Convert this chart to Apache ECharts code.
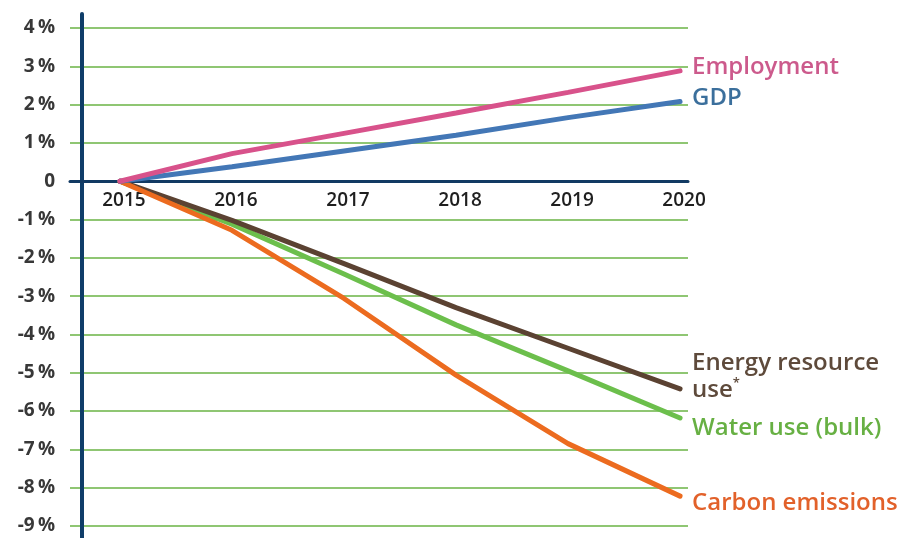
<!DOCTYPE html>
<html><head><meta charset="utf-8">
<script src="https://cdn.jsdelivr.net/npm/echarts@6/dist/echarts.min.js"></script>
<style>html,body{margin:0;padding:0;background:#fff}#c{width:909px;height:538px}</style>
</head><body><div id="c"></div>
<script>
const years = [2015, 2016, 2017, 2018, 2019, 2020];
const employment = [0, 0.72, 1.25, 1.78, 2.32, 2.88];
const gdp = [0, 0.38, 0.79, 1.2, 1.66, 2.08];
const energy = [0, -1.02, -2.15, -3.3, -4.36, -5.42];
const water = [0, -1.12, -2.42, -3.75, -4.95, -6.18];
const carbon = [0, -1.28, -3.06, -5.06, -6.85, -8.22];
const yTicks = [4, 3, 2, 1, 0, -1, -2, -3, -4, -5, -6, -7, -8, -9];
const names = ['Employment', 'GDP', 'Energy resource\nuse{s|*}', 'Water use (bulk)', 'Carbon emissions'];

const FONT = '"Open Sans", "Noto Sans", sans-serif';
const pair = arr => years.map((y, i) => [y, arr[i]]);

const GRID_TOP = 28, GRID_BOTTOM = 12, H = 538;
const plotH = H - GRID_TOP - GRID_BOTTOM;
const zeroFromBottom = plotH * (0 - yTicks[yTicks.length - 1]) / (yTicks[0] - yTicks[yTicks.length - 1]);

function mk(name, arr, color, textColor, dy, z) {
  return {
    type: 'line', name: name, data: pair(arr), showSymbol: false, symbol: 'none', z: z,
    lineStyle: { color: color, width: 5, cap: 'round' },
    endLabel: {
      show: true, formatter: name, color: textColor, fontFamily: FONT, fontWeight: 600,
      fontSize: 24, lineHeight: 27, distance: 12, offset: [0, dy], align: 'left',
      rich: { s: { fontSize: 13, verticalAlign: 'top', color: textColor, fontFamily: FONT, fontWeight: 600, padding: [0, 0, 10, 0] } }
    },
    animation: false
  };
}

const chart = echarts.init(document.getElementById('c'));
chart.setOption({
  animation: false,
  backgroundColor: '#fff',
  grid: [
    { left: 70, right: 221, top: GRID_TOP, bottom: GRID_BOTTOM, outerBoundsMode: 'none' },
    { left: 82, width: 1, top: 14, bottom: 0, outerBoundsMode: 'none' }
  ],
  xAxis: [
    {
      type: 'value', gridIndex: 0, min: 2014.554, max: 2020.071, position: 'bottom',
      offset: -zeroFromBottom,
      axisLine: { show: true, onZero: false, lineStyle: { color: '#123a63', width: 3 } },
      axisTick: { show: false },
      splitLine: { show: false },
      axisLabel: {
        customValues: years, formatter: v => String(v), margin: 10, padding: [0, 0, 0, 8],
        color: '#1f1f1f', fontFamily: FONT, fontSize: 19, fontWeight: 600
      }
    },
    { type: 'value', gridIndex: 1, show: false, min: 0, max: 1 }
  ],
  yAxis: [
    {
      type: 'value', gridIndex: 0, min: -9, max: 4, interval: 1,
      axisLine: { show: false },
      axisTick: { show: false },
      splitLine: { show: true, lineStyle: { color: '#8fc673', width: 2 } },
      axisLabel: {
        margin: 15, color: '#383838', fontFamily: FONT, fontSize: 19, fontWeight: 700,
        formatter: v => v === 0 ? '0' : v + '\u2009%'
      }
    },
    {
      type: 'value', gridIndex: 1, min: 0, max: 1,
      axisLine: { show: true, lineStyle: { color: '#0f3d69', width: 4 } },
      axisTick: { show: false }, axisLabel: { show: false }, splitLine: { show: false }
    }
  ],
  series: [
    mk(names[3], water, '#6cbf4c', '#67b043', 10, 3),
    mk(names[2], energy, '#5b4232', '#5e4a3b', -12, 4),
    mk(names[4], carbon, '#ec6b1f', '#e2612a', 7, 5),
    mk(names[1], gdp, '#4377b6', '#3b6f9c', -3, 6),
    mk(names[0], employment, '#d8528b', '#cc5a8c', -4, 7)
  ]
});
</script></body></html>
